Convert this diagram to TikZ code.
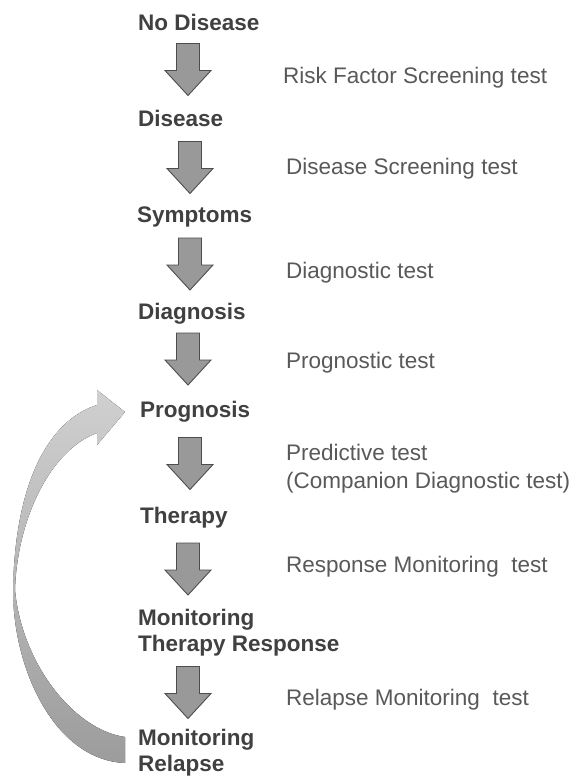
\documentclass[tikz,border=0pt]{standalone}
\usepackage{fontspec}
\setmainfont{Liberation Sans}
\definecolor{stagegray}{HTML}{404040}
\definecolor{testgray}{HTML}{595959}
\definecolor{arrowfill}{HTML}{999999}
\definecolor{arrowline}{HTML}{4D4D4D}
\definecolor{loopTop}{HTML}{D0D0D0}
\definecolor{loopMid}{HTML}{D8D8D8}
\definecolor{loopBot}{HTML}{9C9C9C}
\begin{document}
\begin{tikzpicture}[x=1pt,y=-1pt,
  stage/.style={anchor=base west, inner sep=0pt, align=left,
    font=\fontsize{22.5}{26}\selectfont\bfseries, text=stagegray},
  testlabel/.style={anchor=base west, inner sep=0pt, align=left,
    font=\fontsize{22.5}{28}\selectfont, text=testgray},
  pics/downarrow/.style={code={
    \coordinate (-c) at (0,0);
    \filldraw[fill=arrowfill, draw=arrowline, line width=0.9pt, line join=miter]
      (-11.5,-26) -- (11.5,-26) -- (11.5,1) -- (23,1) -- (0,26)
      -- (-23,1) -- (-11.5,1) -- cycle;}}]
\useasboundingbox[fill=white] (0,0) rectangle (576,776);

% stages of the disease course (base anchor sits on the last line)
\node[stage] (s1) at (138,31)  {No Disease};
\node[stage] (s2) at (138,126) {Disease};
\node[stage] (s3) at (137,222) {Symptoms};
\node[stage] (s4) at (138,319) {Diagnosis};
\node[stage] (s5) at (140,417) {Prognosis};
\node[stage] (s6) at (140,523) {Therapy};
\node[stage] (s7) at (138,651) {Monitoring\\Therapy Response};
\node[stage] (s8) at (138,771) {Monitoring\\Relapse};

% block arrows between stages
\pic (a1) at (188,69.5)  {downarrow};
\pic (a2) at (190,167.5) {downarrow};
\pic (a3) at (190,264)   {downarrow};
\pic (a4) at (188,359)   {downarrow};
\pic (a5) at (190,463.5) {downarrow};
\pic (a6) at (188,569)   {downarrow};
\pic (a7) at (188,692.5) {downarrow};

% test types
\node[testlabel] (t1) at (283,83)  {Risk Factor Screening test};
\node[testlabel] (t2) at (286,174) {Disease Screening test};
\node[testlabel] (t3) at (286,278) {Diagnostic test};
\node[testlabel] (t4) at (286,368) {Prognostic test};
\node[testlabel] (t5) at (286,488) {Predictive test\\(Companion Diagnostic test)};
\node[testlabel] (t6) at (286,572) {Response Monitoring\ \ test};
\node[testlabel] (t7) at (286,705) {Relapse Monitoring\ \ test};

% curved return arrow from relapse back to prognosis
\fill[top color=loopTop, middle color=loopMid, bottom color=loopBot]
  (97,405) .. controls (50,420) and (15,480) .. (13,590)
  .. controls (13,670) and (55,760) .. (125,763)
  -- (125,737)
  .. controls (75,730) and (22,665) .. (15,590)
  .. controls (17,520) and (50,450) .. (97,433)
  -- (97,445) -- (125,412) -- (97,390) -- cycle;
\end{tikzpicture}
\end{document}
